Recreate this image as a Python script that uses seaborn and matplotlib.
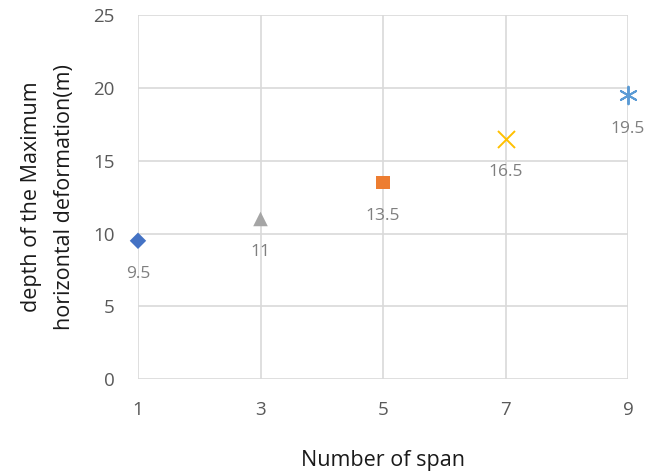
import matplotlib
matplotlib.use("Agg")
import matplotlib.pyplot as plt
import seaborn as sns
import pandas as pd

spans = [1, 3, 5, 7, 9]
depths = [9.5, 11, 13.5, 16.5, 19.5]
colors = ["#4472C4", "#A5A5A5", "#ED7D31", "#FFC000", "#5B9BD5"]
markers = ["D", "^", "s", "x", (6, 2, 0)]
sizes = [70, 110, 90, 150, 160]
x_ticks = [1, 3, 5, 7, 9]
y_ticks = [0, 5, 10, 15, 20, 25]

sns.set_theme(style="white")
plt.rcParams["font.family"] = ["Open Sans", "DejaVu Sans"]

fig = plt.figure(figsize=(6.57, 4.75), dpi=100)
ax = fig.add_axes([0.210, 0.202, 0.746, 0.766])

df = pd.DataFrame({"span": spans, "depth": depths})
for i in range(len(df)):
    m = markers[i]
    line_art = m == "x" or isinstance(m, tuple)
    kw = dict(linewidth=1.4) if line_art else dict(edgecolor="none")
    sns.scatterplot(data=df.iloc[[i]], x="span", y="depth", marker=m,
                    color=colors[i], s=sizes[i], ax=ax, zorder=3,
                    clip_on=False, **kw)
    ax.annotate(f"{depths[i]:g}", (spans[i], depths[i]), xytext=(0, -24),
                textcoords="offset points", ha="center", va="center",
                fontsize=12.5, color="#7F7F7F")

ax.set_xlim(1, 9)
ax.set_ylim(0, 25)
ax.set_xticks(x_ticks)
ax.set_yticks(y_ticks)
ax.grid(True, color="#D9D9D9", linewidth=1.2)
ax.set_axisbelow(True)
for s in ax.spines.values():
    s.set_visible(False)
ax.tick_params(axis="both", length=0, labelsize=13.5, labelcolor="#595959")
ax.tick_params(axis="x", pad=16)
ax.tick_params(axis="y", pad=17)
ax.set_xlabel("Number of span", fontsize=15.5, color="#1a1a1a", labelpad=22)
ax.set_ylabel("depth of the Maximum\nhorizontal deformation(m)", fontsize=15.5,
              color="#1a1a1a", labelpad=13, linespacing=1.75)

fig.savefig("out.png", dpi=100)
